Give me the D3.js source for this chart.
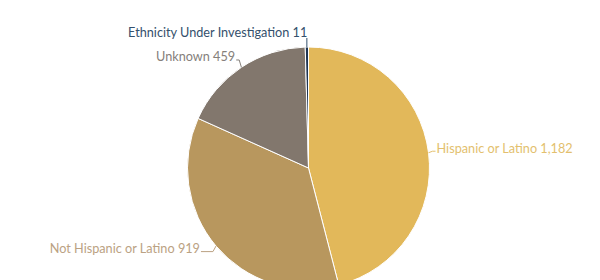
<!DOCTYPE html>
<html><head><meta charset="utf-8">
<script src="https://cdn.jsdelivr.net/npm/d3@7"></script>
<style>html,body{margin:0;padding:0;background:#fff;}svg{display:block;}</style>
</head><body>
<svg id="chart" width="600" height="280"></svg>
<script>
const categories = ["Hispanic or Latino", "Not Hispanic or Latino", "Unknown", "Ethnicity Under Investigation"];
const values = [1182, 919, 459, 11];
const colors = ["#e2b85a", "#b8975e", "#82776d", "#1e3553"];
const labelColors = ["#e3bf6e", "#bba283", "#85807b", "#34506c"];

const svg = d3.select("#chart");
const cx = 308.5, cy = 168, r = 121;
const g = svg.append("g").attr("transform", `translate(${cx},${cy})`);
const pie = d3.pie().sort(null).value(d => d)(values);
const arc = d3.arc().innerRadius(0).outerRadius(r);

g.selectAll("path.slice").data(pie).join("path")
  .attr("class", "slice")
  .attr("d", arc)
  .attr("fill", (d, i) => colors[i])
  .attr("stroke", "#fff").attr("stroke-width", 1).attr("stroke-linejoin", "round");

const fmt = d3.format(",");
const dy = [-4, 0, -7, -10];
const ext = [0, 9, 0, 0];
const dist = 4;
pie.forEach((d, i) => {
  const a = (d.startAngle + d.endAngle) / 2;
  const ex = Math.sin(a) * r, ey = -Math.cos(a) * r;
  const lx = Math.sin(a) * (r + dist), ly = -Math.cos(a) * (r + dist) + dy[i];
  const right = Math.sin(a) > 0.05;
  const left = Math.sin(a) < -0.05;
  let tx, anchor;
  if (right) { tx = lx + 3 + ext[i]; anchor = "start"; }
  else if (left) { tx = lx - 3 - ext[i]; anchor = "end"; }
  else { tx = lx + 1.5; anchor = "end"; }
  const ty = ly;
  let pts;
  if (i === 3) pts = [[ex, ey], [ex, ty + 5]];
  else pts = [[ex, ey], [lx, ly + 3], [tx, ty + 3]];
  g.append("path")
    .attr("d", d3.line()(pts))
    .attr("fill", "none").attr("stroke", labelColors[i]).attr("stroke-width", 1);
  g.append("text")
    .attr("x", tx + (right ? 1 : -1)).attr("y", ty)
    .attr("dy", "0.35em")
    .attr("text-anchor", anchor)
    .attr("font-family", "Lato, sans-serif")
    .attr("font-size", 12.7)
    .attr("fill", labelColors[i])
    .text(categories[i] + " " + fmt(values[i]));
});
</script>
</body></html>
